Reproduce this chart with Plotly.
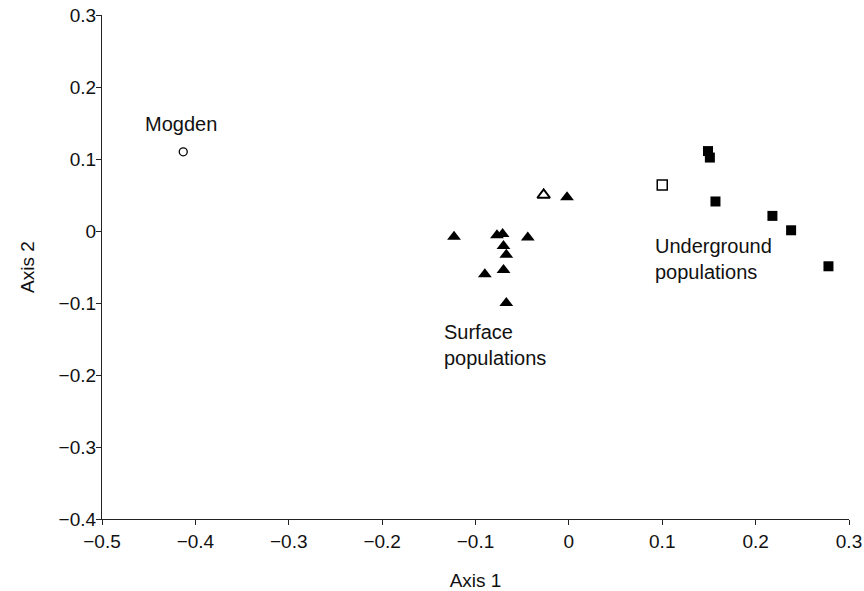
import plotly.graph_objects as go

# Data
mogden_x = [-0.413]
mogden_y = [0.110]

surface_x = [-0.123, -0.077, -0.071, -0.070, -0.067, -0.044, -0.090, -0.070, -0.067, -0.002]
surface_y = [-0.008, -0.006, -0.004, -0.021, -0.033, -0.009, -0.060, -0.054, -0.100, 0.047]

surface_open_x = [-0.027]
surface_open_y = [0.050]

under_x = [0.149, 0.151, 0.157, 0.218, 0.238, 0.278]
under_y = [0.111, 0.102, 0.041, 0.021, 0.001, -0.049]

under_open_x = [0.100]
under_open_y = [0.064]

x_ticks = [-0.5, -0.4, -0.3, -0.2, -0.1, 0, 0.1, 0.2, 0.3]
x_labels = ["\u22120.5", "\u22120.4", "\u22120.3", "\u22120.2", "\u22120.1", "0", "0.1", "0.2", "0.3"]
y_ticks = [-0.4, -0.3, -0.2, -0.1, 0, 0.1, 0.2, 0.3]
y_labels = ["\u22120.4", "\u22120.3", "\u22120.2", "\u22120.1", "0", "0.1", "0.2", "0.3"]

FONT = "Liberation Sans, Arial, Helvetica, sans-serif"

fig = go.Figure()
fig.add_trace(go.Scatter(x=mogden_x, y=mogden_y, mode="markers",
                         marker=dict(symbol="circle-open", size=8, color="black", line=dict(width=1.3))))
fig.add_trace(go.Scatter(x=surface_x, y=surface_y, mode="markers",
                         marker=dict(symbol="triangle-up", size=12, color="black")))
fig.add_trace(go.Scatter(x=surface_open_x, y=surface_open_y, mode="markers",
                         marker=dict(symbol="triangle-up-open", size=11, color="black", line=dict(width=2))))
fig.add_trace(go.Scatter(x=under_x, y=under_y, mode="markers",
                         marker=dict(symbol="square", size=10, color="black")))
fig.add_trace(go.Scatter(x=under_open_x, y=under_open_y, mode="markers",
                         marker=dict(symbol="square-open", size=10, color="black", line=dict(width=1.5))))

ann_font = dict(family=FONT, size=20, color="#111")
fig.add_annotation(x=-0.4155, y=0.149, text="Mogden", showarrow=False, font=ann_font,
                   xanchor="center", yanchor="middle")
fig.add_annotation(x=-0.136, y=-0.158, text="Surface<br>populations", showarrow=False,
                   font=ann_font, xanchor="left", yanchor="middle", align="left")
fig.add_annotation(x=0.090, y=-0.039, text="Underground<br>populations", showarrow=False,
                   font=ann_font, xanchor="left", yanchor="middle", align="left")

axis_common = dict(showgrid=False, zeroline=False, showline=True, linecolor="#222",
                   linewidth=1.3, ticks="outside", ticklen=5, tickcolor="#222",
                   automargin=False, ticklabeloverflow="allow",
                   tickfont=dict(family=FONT, size=19, color="#111"))

fig.update_layout(
    width=864, height=591,
    margin=dict(l=102, r=15, t=15, b=72),
    plot_bgcolor="white", paper_bgcolor="white",
    showlegend=False,
    hovermode=False,
    xaxis=dict(range=[-0.5, 0.3], tickvals=x_ticks, ticktext=x_labels,
               title=dict(text="Axis 1", font=dict(family=FONT, size=19, color="#111"), standoff=22),
               **axis_common),
    yaxis=dict(range=[-0.4, 0.3], tickvals=y_ticks, ticktext=y_labels,
               ticklabelstandoff=-4,
               title=dict(text="Axis 2", font=dict(family=FONT, size=19, color="#111"), standoff=18),
               **axis_common),
)

# remove the browser's default 8px page margin so the figure fills the window exactly
fig.write_html("out.html", config={"displayModeBar": False},
               post_script="document.body.style.margin='0';document.body.style.overflow='hidden';")
